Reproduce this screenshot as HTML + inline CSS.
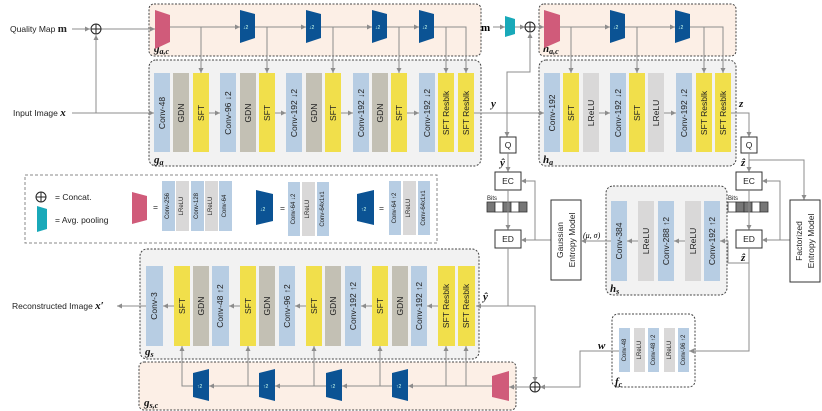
<!DOCTYPE html>
<html><head><meta charset="utf-8"><style>
html,body{margin:0;padding:0;background:#fff}
svg{display:block;font-family:"Liberation Sans",sans-serif}
.b{fill:#b7cde3}.g{fill:#c3c0b4}.y{fill:#f1df4b}.l{fill:#d9d8d8}
.t{font-size:8.5px;fill:#222}
.s{font-size:6px;fill:#222}
.ln{stroke:#8c8c8c;stroke-width:1;fill:none}
.pk{fill:#d05b7a}.db{fill:#0b5394}.tl{fill:#19a9b9}
.bx{fill:#fff;stroke:#333;stroke-width:1}
.it{font-family:"Liberation Serif",serif;font-style:italic;font-weight:bold;font-size:11px;fill:#111}
</style></head><body>
<svg width="822" height="411" viewBox="0 0 822 411" xmlns="http://www.w3.org/2000/svg">
<defs><marker id="a" markerWidth="6" markerHeight="6" refX="5" refY="3" orient="auto" markerUnits="userSpaceOnUse"><path d="M0,0.5 L5,3 L0,5.5z" fill="#8c8c8c"/></marker></defs>

<rect x="149" y="4" width="332" height="52" rx="5" fill="#fcefe6" stroke="#444" stroke-dasharray="2,1.5"/>
<rect x="149" y="60" width="332" height="106" rx="7" fill="#f2f2f2" stroke="#444" stroke-dasharray="2,1.5"/>
<rect x="539" y="4" width="197" height="52" rx="5" fill="#fcefe6" stroke="#444" stroke-dasharray="2,1.5"/>
<rect x="539" y="60" width="197" height="106" rx="7" fill="#f2f2f2" stroke="#444" stroke-dasharray="2,1.5"/>
<rect x="606" y="186" width="121" height="109" rx="7" fill="#f2f2f2" stroke="#444" stroke-dasharray="2,1.5"/>
<rect x="612" y="314" width="83" height="73" rx="6" fill="#fff" stroke="#444" stroke-dasharray="2,1.5"/>
<rect x="140" y="249" width="339" height="110" rx="7" fill="#f2f2f2" stroke="#444" stroke-dasharray="2,1.5"/>
<rect x="139" y="362" width="377" height="48" rx="5" fill="#fcefe6" stroke="#444" stroke-dasharray="2,1.5"/>
<rect x="25" y="175" width="412" height="68" fill="#fff" stroke="#888" stroke-dasharray="3,2"/>

<text class="it" x="154" y="52">g<tspan font-size="8" dy="2">a,c</tspan></text>
<text class="it" x="154" y="163">g<tspan font-size="8" dy="2">a</tspan></text>
<text class="it" x="543" y="52">h<tspan font-size="8" dy="2">a,c</tspan></text>
<text class="it" x="543" y="163">h<tspan font-size="8" dy="2">a</tspan></text>
<text class="it" x="610" y="292">h<tspan font-size="8" dy="2">s</tspan></text>
<text class="it" x="615" y="385">f<tspan font-size="8" dy="2">c</tspan></text>
<text class="it" x="145" y="355">g<tspan font-size="8" dy="2">s</tspan></text>
<text class="it" x="144" y="406">g<tspan font-size="8" dy="2">s,c</tspan></text>

<text class="t" x="10" y="32" font-size="9">Quality Map <tspan font-family="Liberation Serif" font-weight="bold" font-size="11">m</tspan></text>
<text class="t" x="13" y="116" font-size="9">Input Image <tspan class="it">x</tspan></text>
<line class="ln" x1="72" y1="29" x2="90" y2="29" marker-end="url(#a)"/>
<line class="ln" x1="72" y1="113" x2="154" y2="113" marker-end="url(#a)"/>
<line class="ln" x1="96" y1="113" x2="96" y2="35" marker-end="url(#a)"/>
<line class="ln" x1="101" y1="29" x2="155" y2="29" marker-end="url(#a)"/>
<circle cx="96" cy="29" r="5" fill="#fff" stroke="#222"/><path d="M91,29H101M96,24V34" stroke="#222"/>
<line class="ln" x1="170" y1="27" x2="240" y2="27" marker-end="url(#a)"/>
<line class="ln" x1="255" y1="27" x2="306" y2="27" marker-end="url(#a)"/>
<line class="ln" x1="321" y1="27" x2="372" y2="27" marker-end="url(#a)"/>
<line class="ln" x1="387" y1="27" x2="419" y2="27" marker-end="url(#a)"/>
<polyline class="ln" points="434,27 466,27 466,73" marker-end="url(#a)"/>
<line class="ln" x1="201" y1="27" x2="201" y2="73" marker-end="url(#a)"/>
<line class="ln" x1="267" y1="27" x2="267" y2="73" marker-end="url(#a)"/>
<line class="ln" x1="333" y1="27" x2="333" y2="73" marker-end="url(#a)"/>
<line class="ln" x1="399" y1="27" x2="399" y2="73" marker-end="url(#a)"/>
<line class="ln" x1="446" y1="27" x2="446" y2="73" marker-end="url(#a)"/>
<line class="ln" x1="209" y1="113" x2="220" y2="113" marker-end="url(#a)"/>
<line class="ln" x1="275" y1="113" x2="286" y2="113" marker-end="url(#a)"/>
<line class="ln" x1="341" y1="113" x2="353" y2="113" marker-end="url(#a)"/>
<line class="ln" x1="407" y1="113" x2="419" y2="113" marker-end="url(#a)"/>
<polygon class="pk" points="155,10 170,15 170,42 155,49"/>
<g class="db"><polygon points="240,10 255,14 255,38 240,43"/><polygon points="306,10 321,14 321,38 306,43"/><polygon points="372,10 387,14 387,38 372,43"/><polygon points="419,10 434,14 434,38 419,43"/></g>
<g font-size="5" fill="#cfe" ><text x="243" y="29">↓2</text><text x="309" y="29">↓2</text><text x="375" y="29">↓2</text><text x="422" y="29">↓2</text></g>

<g>
<rect class="b" x="154" y="73" width="16" height="79"/><rect class="g" x="173" y="73" width="16" height="79"/><rect class="y" x="193" y="73" width="16" height="79"/>
<rect class="b" x="220" y="73" width="16" height="79"/><rect class="g" x="240" y="73" width="16" height="79"/><rect class="y" x="259" y="73" width="16" height="79"/>
<rect class="b" x="286" y="73" width="16" height="79"/><rect class="g" x="306" y="73" width="16" height="79"/><rect class="y" x="325" y="73" width="16" height="79"/>
<rect class="b" x="353" y="73" width="16" height="79"/><rect class="g" x="372" y="73" width="16" height="79"/><rect class="y" x="391" y="73" width="16" height="79"/>
<rect class="b" x="419" y="73" width="16" height="79"/><rect class="y" x="438" y="73" width="16" height="79"/><rect class="y" x="458" y="73" width="16" height="79"/>
</g>
<g class="t" text-anchor="middle" dominant-baseline="central">
<text transform="translate(162,113) rotate(-90)">Conv-48</text><text transform="translate(181,113) rotate(-90)">GDN</text><text transform="translate(201,113) rotate(-90)">SFT</text>
<text transform="translate(228,113) rotate(-90)">Conv-96 ↓2</text><text transform="translate(248,113) rotate(-90)">GDN</text><text transform="translate(267,113) rotate(-90)">SFT</text>
<text transform="translate(294,113) rotate(-90)">Conv-192 ↓2</text><text transform="translate(314,113) rotate(-90)">GDN</text><text transform="translate(333,113) rotate(-90)">SFT</text>
<text transform="translate(361,113) rotate(-90)">Conv-192 ↓2</text><text transform="translate(380,113) rotate(-90)">GDN</text><text transform="translate(399,113) rotate(-90)">SFT</text>
<text transform="translate(427,113) rotate(-90)">Conv-192 ↓2</text><text transform="translate(446,113) rotate(-90)">SFT Resblk</text><text transform="translate(466,113) rotate(-90)">SFT Resblk</text>
</g>

<text x="481" y="31" font-family="Liberation Serif" font-weight="bold" font-size="11">m</text>
<line class="ln" x1="493" y1="27" x2="505" y2="27" marker-end="url(#a)"/>
<polygon class="tl" points="505,16 515,19 515,34 505,37"/>
<line class="ln" x1="515" y1="27" x2="525" y2="27" marker-end="url(#a)"/>
<line class="ln" x1="535" y1="27" x2="544" y2="27" marker-end="url(#a)"/>
<circle cx="530" cy="27" r="5" fill="#fff" stroke="#222"/><path d="M525,27H535M530,22V32" stroke="#222"/>
<polyline class="ln" points="507,137 507,72 530,72 530,33" marker-end="url(#a)"/>
<line class="ln" x1="507" y1="120" x2="507" y2="137" marker-end="url(#a)"/>
<line class="ln" x1="474" y1="113" x2="544" y2="113" marker-end="url(#a)"/>
<text class="it" x="491" y="107">y</text>
<polygon class="pk" points="544,10 560,15 560,41 544,48"/>
<line class="ln" x1="560" y1="27" x2="610" y2="27" marker-end="url(#a)"/>
<line class="ln" x1="625" y1="27" x2="675" y2="27" marker-end="url(#a)"/>
<polyline class="ln" points="690,27 723,27 723,73" marker-end="url(#a)"/>
<line class="ln" x1="571" y1="27" x2="571" y2="73" marker-end="url(#a)"/>
<line class="ln" x1="637" y1="27" x2="637" y2="73" marker-end="url(#a)"/>
<line class="ln" x1="704" y1="27" x2="704" y2="73" marker-end="url(#a)"/>
<g class="db"><polygon points="610,10 625,14 625,38 610,43"/><polygon points="675,10 690,14 690,38 675,43"/></g>
<g font-size="5" fill="#cfe"><text x="613" y="29">↓2</text><text x="678" y="29">↓2</text></g>
<line class="ln" x1="599" y1="113" x2="610" y2="113" marker-end="url(#a)"/>
<line class="ln" x1="664" y1="113" x2="676" y2="113" marker-end="url(#a)"/>
<rect class="b" x="544" y="73" width="16" height="79"/><rect class="y" x="563" y="73" width="16" height="79"/><rect class="l" x="583" y="73" width="16" height="79"/>
<rect class="b" x="610" y="73" width="16" height="79"/><rect class="y" x="629" y="73" width="16" height="79"/><rect class="l" x="648" y="73" width="16" height="79"/>
<rect class="b" x="676" y="73" width="16" height="79"/><rect class="y" x="696" y="73" width="16" height="79"/><rect class="y" x="715" y="73" width="16" height="79"/>
<g class="t" text-anchor="middle" dominant-baseline="central">
<text transform="translate(552,113) rotate(-90)">Conv-192</text><text transform="translate(571,113) rotate(-90)">SFT</text><text transform="translate(591,113) rotate(-90)">LReLU</text>
<text transform="translate(618,113) rotate(-90)">Conv-192 ↓2</text><text transform="translate(637,113) rotate(-90)">SFT</text><text transform="translate(656,113) rotate(-90)">LReLU</text>
<text transform="translate(684,113) rotate(-90)">Conv-192 ↓2</text><text transform="translate(704,113) rotate(-90)">SFT Resblk</text><text transform="translate(723,113) rotate(-90)">SFT Resblk</text>
</g>
<polyline class="ln" points="731,113 749,113 749,137" marker-end="url(#a)"/>
<text class="it" x="739" y="107">z</text>

<rect class="bx" x="500" y="137" width="16" height="16"/><text class="t" x="508" y="148" text-anchor="middle">Q</text>
<text class="it" x="500" y="166">ŷ</text>
<line class="ln" x1="508" y1="153" x2="508" y2="172" marker-end="url(#a)"/>
<rect class="bx" x="495" y="172" width="26" height="18"/><text class="t" x="508" y="184" text-anchor="middle">EC</text>
<text class="s" x="487" y="200">Bits</text>
<g stroke="#333" stroke-width="0.8"><rect x="487" y="202" width="8" height="10" fill="#777"/><rect x="495" y="202" width="8" height="10" fill="#fff"/><rect x="503" y="202" width="8" height="10" fill="#777"/><rect x="511" y="202" width="8" height="10" fill="#fff"/><rect x="519" y="202" width="8" height="10" fill="#777"/></g>
<line class="ln" x1="508" y1="190" x2="508" y2="230" marker-end="url(#a)"/>
<rect class="bx" x="495" y="230" width="26" height="18"/><text class="t" x="508" y="242" text-anchor="middle">ED</text>
<line class="ln" x1="551" y1="240" x2="521" y2="240" marker-end="url(#a)"/>
<polyline class="ln" points="535,240 535,181 521,181" marker-end="url(#a)"/>
<rect class="bx" x="551" y="200" width="30" height="80"/>
<g class="t" text-anchor="middle" font-size="9"><text transform="translate(563,240) rotate(-90)">Gaussian</text><text transform="translate(575,240) rotate(-90)">Entropy Model</text></g>
<text x="583" y="238" font-family="Liberation Serif" font-style="italic" font-size="8">(μ, σ)</text>
<line class="ln" x1="611" y1="241" x2="581" y2="241" marker-end="url(#a)"/>
<polyline class="ln" points="508,248 508,306 476,306" marker-end="url(#a)"/>
<polyline class="ln" points="508,306 535,306 535,382" marker-end="url(#a)"/>
<text class="it" x="483" y="300">ŷ</text>

<rect class="b" x="611" y="201" width="16" height="80"/><rect class="l" x="638" y="201" width="16" height="80"/><rect class="b" x="658" y="201" width="16" height="80"/><rect class="l" x="685" y="201" width="16" height="80"/><rect class="b" x="704" y="201" width="16" height="80"/>
<g class="t" text-anchor="middle" dominant-baseline="central">
<text transform="translate(619,241) rotate(-90)">Conv-384</text><text transform="translate(646,241) rotate(-90)">LReLU</text><text transform="translate(666,241) rotate(-90)">Conv-288 ↑2</text><text transform="translate(693,241) rotate(-90)">LReLU</text><text transform="translate(712,241) rotate(-90)">Conv-192 ↑2</text>
</g>
<line class="ln" x1="638" y1="241" x2="627" y2="241" marker-end="url(#a)"/>
<line class="ln" x1="685" y1="241" x2="674" y2="241" marker-end="url(#a)"/>

<rect class="bx" x="741" y="137" width="16" height="16"/><text class="t" x="749" y="148" text-anchor="middle">Q</text>
<text class="it" x="741" y="166">ẑ</text>
<line class="ln" x1="749" y1="153" x2="749" y2="172" marker-end="url(#a)"/>
<polyline class="ln" points="749,160 804,160 804,200" marker-end="url(#a)"/>
<rect class="bx" x="736" y="172" width="26" height="18"/><text class="t" x="749" y="184" text-anchor="middle">EC</text>
<text class="s" x="728" y="200">Bits</text>
<g stroke="#333" stroke-width="0.8"><rect x="728" y="202" width="8" height="10" fill="#fff"/><rect x="736" y="202" width="8" height="10" fill="#777"/><rect x="744" y="202" width="8" height="10" fill="#777"/><rect x="752" y="202" width="8" height="10" fill="#fff"/><rect x="760" y="202" width="8" height="10" fill="#777"/></g>
<line class="ln" x1="749" y1="190" x2="749" y2="230" marker-end="url(#a)"/>
<rect class="bx" x="736" y="230" width="26" height="18"/><text class="t" x="749" y="242" text-anchor="middle">ED</text>
<line class="ln" x1="790" y1="240" x2="762" y2="240" marker-end="url(#a)"/>
<polyline class="ln" points="780,240 780,181 762,181" marker-end="url(#a)"/>
<rect class="bx" x="790" y="200" width="30" height="82"/>
<g class="t" text-anchor="middle" font-size="9"><text transform="translate(802,241) rotate(-90)">Factorized</text><text transform="translate(814,241) rotate(-90)">Entropy Model</text></g>
<text class="it" x="741" y="261">ẑ</text>
<polyline class="ln" points="749,248 749,351 689,351" marker-end="url(#a)"/>
<polyline class="ln" points="749,263 728,263 728,241 720,241" marker-end="url(#a)"/>

<rect class="b" x="619" y="328" width="11" height="44"/><rect class="l" x="634" y="328" width="11" height="44"/><rect class="b" x="648" y="328" width="11" height="44"/><rect class="l" x="664" y="328" width="11" height="44"/><rect class="b" x="678" y="328" width="11" height="44"/>
<g class="s" text-anchor="middle" dominant-baseline="central">
<text transform="translate(625,350) rotate(-90)">Conv-48</text><text transform="translate(640,350) rotate(-90)">LReLU</text><text transform="translate(654,350) rotate(-90)">Conv-48 ↑2</text><text transform="translate(670,350) rotate(-90)">LReLU</text><text transform="translate(684,350) rotate(-90)">Conv-96 ↑2</text>
</g>
<text class="it" x="598" y="349">w</text>
<polyline class="ln" points="619,351 580,351 580,387 540,387" marker-end="url(#a)"/>
<circle cx="535" cy="387" r="5" fill="#fff" stroke="#222"/><path d="M530,387H540M535,382V392" stroke="#222"/>

<line class="ln" x1="530" y1="387" x2="509" y2="387" marker-end="url(#a)"/>
<polygon class="pk" points="492,376 509,371 509,401 492,397"/>
<polyline class="ln" points="492,386 408,386" marker-end="url(#a)"/>
<line class="ln" x1="392" y1="386" x2="342" y2="386" marker-end="url(#a)"/>
<line class="ln" x1="326" y1="386" x2="275" y2="386" marker-end="url(#a)"/>
<line class="ln" x1="259" y1="386" x2="209" y2="386" marker-end="url(#a)"/>
<polyline class="ln" points="193,386 182,386 182,346" marker-end="url(#a)"/>
<line class="ln" x1="248" y1="386" x2="248" y2="346" marker-end="url(#a)"/>
<line class="ln" x1="314" y1="386" x2="314" y2="346" marker-end="url(#a)"/>
<line class="ln" x1="380" y1="386" x2="380" y2="346" marker-end="url(#a)"/>
<line class="ln" x1="446" y1="386" x2="446" y2="346" marker-end="url(#a)"/>
<line class="ln" x1="466" y1="386" x2="466" y2="346" marker-end="url(#a)"/>
<g class="db"><polygon points="193,373 209,369 209,401 193,397"/><polygon points="259,373 275,369 275,401 259,397"/><polygon points="326,373 342,369 342,401 326,397"/><polygon points="392,373 408,369 408,401 392,397"/></g>
<g font-size="5" fill="#cfe"><text x="197" y="388">↑2</text><text x="263" y="388">↑2</text><text x="330" y="388">↑2</text><text x="396" y="388">↑2</text></g>

<rect class="b" x="146" y="266" width="17" height="80"/>
<rect class="y" x="174" y="266" width="16" height="80"/><rect class="g" x="193" y="266" width="16" height="80"/><rect class="b" x="212" y="266" width="17" height="80"/>
<rect class="y" x="240" y="266" width="16" height="80"/><rect class="g" x="259" y="266" width="16" height="80"/><rect class="b" x="279" y="266" width="16" height="80"/>
<rect class="y" x="306" y="266" width="16" height="80"/><rect class="g" x="325" y="266" width="16" height="80"/><rect class="b" x="345" y="266" width="16" height="80"/>
<rect class="y" x="372" y="266" width="16" height="80"/><rect class="g" x="392" y="266" width="16" height="80"/><rect class="b" x="411" y="266" width="16" height="80"/>
<rect class="y" x="438" y="266" width="17" height="80"/><rect class="y" x="458" y="266" width="17" height="80"/>
<g class="t" text-anchor="middle" dominant-baseline="central">
<text transform="translate(154,306) rotate(-90)">Conv-3</text>
<text transform="translate(182,306) rotate(-90)">SFT</text><text transform="translate(201,306) rotate(-90)">GDN</text><text transform="translate(220,306) rotate(-90)">Conv-48 ↑2</text>
<text transform="translate(248,306) rotate(-90)">SFT</text><text transform="translate(267,306) rotate(-90)">GDN</text><text transform="translate(287,306) rotate(-90)">Conv-96 ↑2</text>
<text transform="translate(314,306) rotate(-90)">SFT</text><text transform="translate(333,306) rotate(-90)">GDN</text><text transform="translate(353,306) rotate(-90)">Conv-192 ↑2</text>
<text transform="translate(380,306) rotate(-90)">SFT</text><text transform="translate(400,306) rotate(-90)">GDN</text><text transform="translate(419,306) rotate(-90)">Conv-192 ↑2</text>
<text transform="translate(446,306) rotate(-90)">SFT Resblk</text><text transform="translate(466,306) rotate(-90)">SFT Resblk</text>
</g>
<line class="ln" x1="438" y1="306" x2="427" y2="306" marker-end="url(#a)"/>
<line class="ln" x1="372" y1="306" x2="361" y2="306" marker-end="url(#a)"/>
<line class="ln" x1="306" y1="306" x2="295" y2="306" marker-end="url(#a)"/>
<line class="ln" x1="240" y1="306" x2="229" y2="306" marker-end="url(#a)"/>
<line class="ln" x1="174" y1="306" x2="163" y2="306" marker-end="url(#a)"/>
<line class="ln" x1="146" y1="306" x2="117" y2="306" marker-end="url(#a)"/>
<text class="t" x="12" y="309" font-size="9">Reconstructed Image <tspan class="it">x′</tspan></text>

<circle cx="41" cy="197" r="5" fill="#fff" stroke="#222"/><path d="M36,197H46M41,192V202" stroke="#222"/>
<text class="t" x="55" y="200" font-size="7">=  Concat.</text>
<polygon class="tl" points="37,206 47,209 47,229 37,232"/>
<text class="t" x="55" y="223" font-size="7">=  Avg. pooling</text>
<polygon class="pk" points="132,192 147,196 147,220 132,224"/>
<text class="t" x="153" y="210" font-size="8">=</text>
<rect class="b" x="162" y="181" width="13" height="50"/><rect class="l" x="176" y="181" width="13" height="50"/><rect class="b" x="191" y="181" width="13" height="50"/><rect class="l" x="205" y="181" width="13" height="50"/><rect class="b" x="219" y="181" width="13" height="50"/>
<polygon class="db" points="256,190 273,194 273,221 256,225"/>
<text x="260" y="211" font-size="5" fill="#cfe">↓2</text>
<text class="t" x="280" y="211" font-size="8">=</text>
<rect class="b" x="288" y="182" width="12" height="54"/><rect class="l" x="302" y="182" width="13" height="54"/><rect class="b" x="317" y="182" width="12" height="54"/>
<polygon class="db" points="357,194 374,190 374,225 357,221"/>
<text x="361" y="211" font-size="5" fill="#cfe">↑2</text>
<text class="t" x="379" y="211" font-size="8">=</text>
<rect class="b" x="389" y="181" width="12" height="54"/><rect class="l" x="403" y="181" width="13" height="54"/><rect class="b" x="418" y="181" width="12" height="54"/>
<g class="s" text-anchor="middle" dominant-baseline="central">
<text transform="translate(168,206) rotate(-90)">Conv-256</text><text transform="translate(182,206) rotate(-90)">LReLU</text><text transform="translate(197,206) rotate(-90)">Conv-128</text><text transform="translate(211,206) rotate(-90)">LReLU</text><text transform="translate(225,206) rotate(-90)">Conv-64</text>
<text transform="translate(294,209) rotate(-90)">Conv-64 ↓2</text><text transform="translate(308,209) rotate(-90)">LReLU</text><text transform="translate(323,209) rotate(-90)">Conv-64x1x1</text>
<text transform="translate(395,208) rotate(-90)">Conv-64 ↑2</text><text transform="translate(409,208) rotate(-90)">LReLU</text><text transform="translate(424,208) rotate(-90)">Conv-64x1x1</text>
</g>
</svg>
</body></html>
